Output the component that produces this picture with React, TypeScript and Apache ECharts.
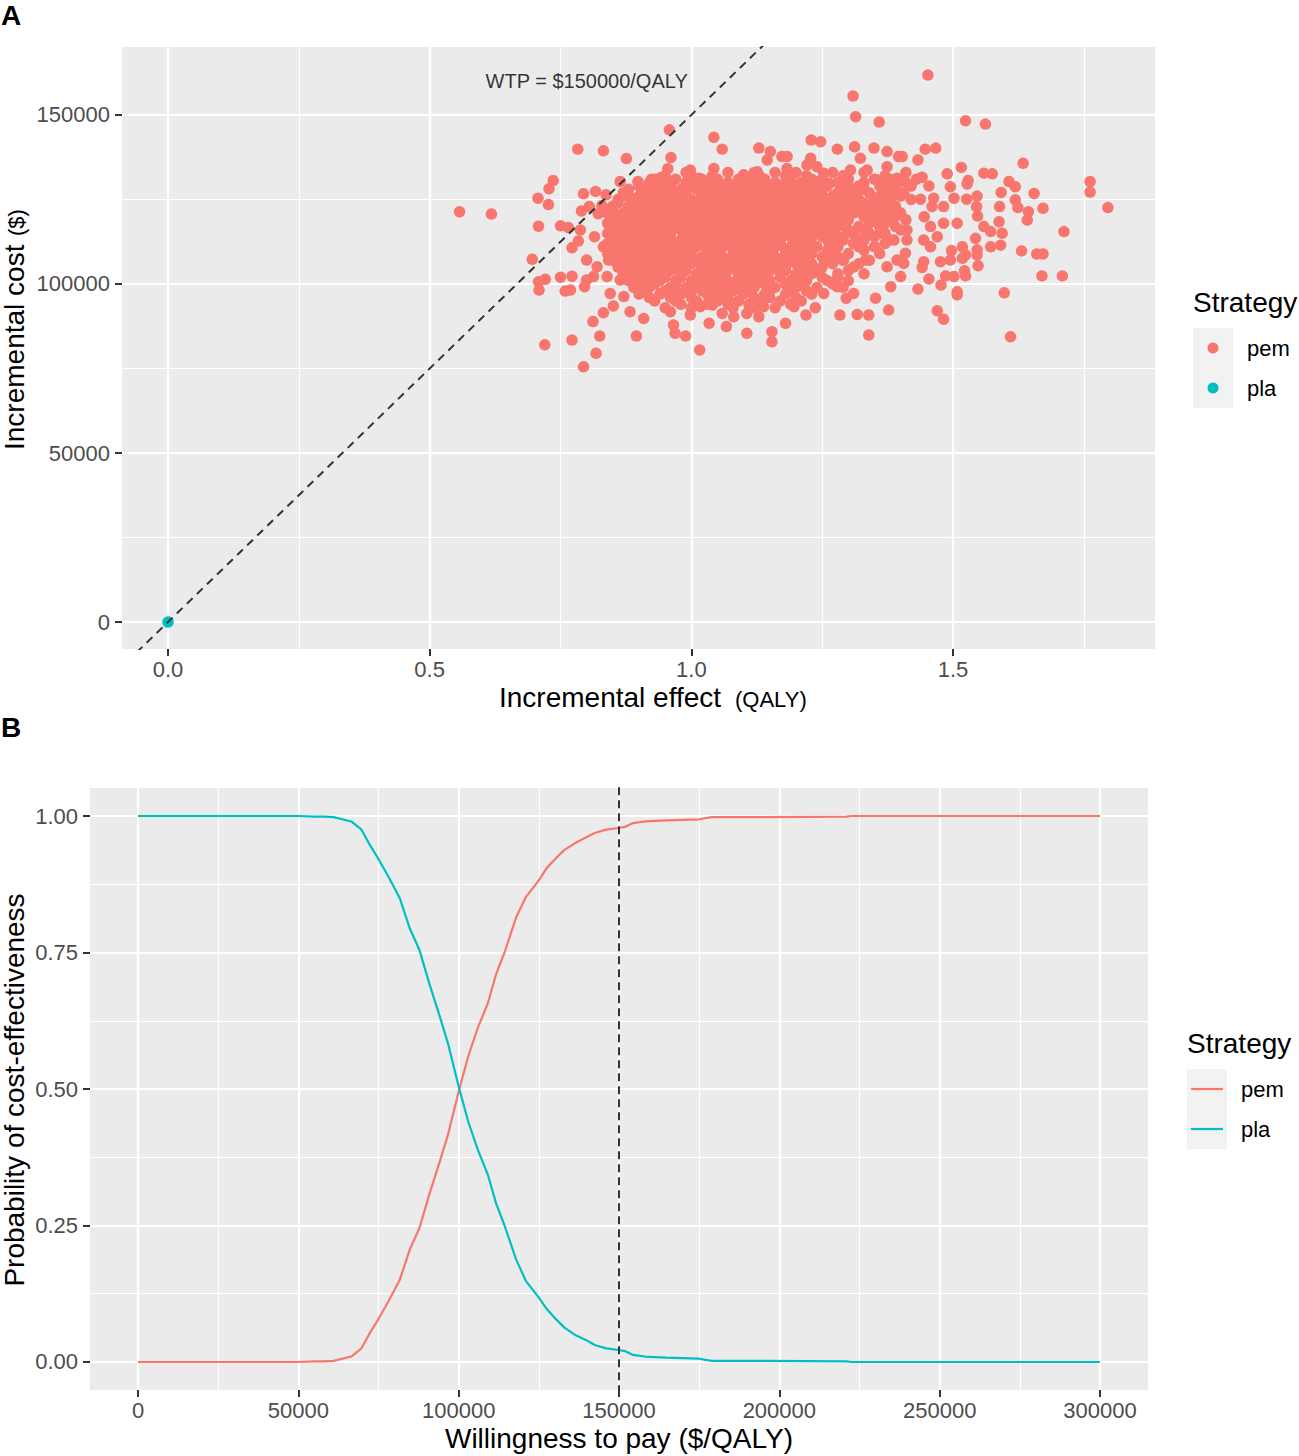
import React, { useEffect, useRef } from "react";
import * as echarts from "echarts";

const FONT = "'Liberation Sans', Arial, Helvetica, sans-serif";
const PEM = "#F8766D";
const PLA = "#00BFC4";

// ---------- Panel A data ----------
const strategies = ["pem", "pla"];

// isolated / edge points of the pem cloud [incremental effect, incremental cost]
const pemSparse: [number, number][] = [
  [0.958,145600],[0.783,139900],[0.832,139400],[0.876,137100],[0.961,137400],[0.955,134100],[0.736,130600],[0.728,128200],
  [0.707,125400],[0.727,123500],[0.557,121400],[0.618,120700],[0.794,126700],[0.817,127400],[0.837,126400],[0.864,130300],
  [0.898,130300],[0.924,131000],[0.941,131400],[0.957,128800],[0.708,117100],[0.750,117200],[0.765,116700],[0.788,116000],
  [0.815,114000],[0.772,110700],[0.784,112700],[0.696,107300],[0.708,100700],[0.721,101400],[0.709,98200],[0.750,102000],
  [0.772,102300],[0.759,97900],[0.769,98200],[0.796,99200],[0.812,88900],[0.832,91500],[0.851,93500],[0.720,82000],
  [0.772,83400],[0.825,84600],[0.895,84600],[0.818,79500],[0.794,75500],[0.909,89800],[0.883,91800],[0.960,91800],
  [0.966,87900],[0.969,85400],[0.850,122900],[0.829,123200],[0.805,122900],[0.790,121600],[0.822,120800],[0.923,122900],
  [0.887,125400],[0.906,122900],[0.855,120400],[0.871,120400],[0.896,120900],[0.861,116500],[0.877,115500],[0.850,112500],
  [0.832,111000],[0.800,107100],[0.820,105100],[0.842,107100],[0.864,109100],[0.890,110100],[0.915,111000],[0.941,111000],
  [0.902,107100],[0.928,105100],[0.960,105100],[0.839,102200],[0.864,101200],[0.890,102200],[0.915,99200],[0.941,97200],
  [0.871,96300],[0.845,97200],[0.934,101200],[0.813,102200],[0.800,101200],
  [1.309,155600],[1.314,149500],[1.359,147900],[1.043,143400],[1.059,139900],[1.229,142600],[1.247,142100],[1.129,140200],
  [1.151,139200],[1.279,139900],[1.312,140600],[1.349,140200],[1.374,139200],[1.173,137700],[1.183,137700],[1.228,137200],
  [1.323,137200],[1.374,134700],[1.396,137700],[0.998,133700],[1.043,134200],[1.145,136700],[1.221,135200],[1.240,134700],
  [1.253,132800],[1.304,133700],[1.336,133700],[1.100,132300],[1.126,133200],[1.183,134200],[1.014,131300],[1.263,129800],
  [1.355,130800],[1.393,131300],
  [0.989,84600],[1.016,80500],[1.034,88400],[1.067,87400],[1.106,85400],[1.154,85900],[1.154,82900],[1.180,88400],
  [0.998,90800],[1.059,91300],[1.081,90300],[1.129,90300],[1.219,90800],[1.237,93000],[1.284,90800],[1.317,91000],
  [1.339,90800],[1.377,92300],[1.339,84900],[1.296,95800],[1.352,95800],[1.381,99200],[1.017,93300],[1.040,93800],
  [1.106,91300],[1.138,93300],[1.196,93300],[1.253,97200],[1.279,99200],[1.310,97200],[1.374,105100],[1.333,107100],
  [1.291,107100],[1.393,107100],[1.253,115000],[1.272,119900],[1.259,122900],[1.298,122900],[1.336,119900],[1.361,122900],
  [1.387,119900],[1.298,115000],[1.323,113000],[1.361,115000],[1.387,113000],[1.285,126800],[1.317,126800],[1.349,124900],
  [1.381,125800],
  [1.452,161800],[1.524,148300],[1.562,147300],[1.447,139900],[1.467,140200],[1.403,137700],[1.433,136700],[1.634,135700],
  [1.516,134500],[1.559,132800],[1.575,132600],[1.489,132600],[1.441,131600],[1.403,130600],[1.529,130600],[1.607,130300],
  [1.619,128800],[1.762,130300],[1.762,127200],[1.796,122600],[1.454,129000],[1.495,128800],[1.527,129600],[1.592,127100],
  [1.655,126800],[1.546,126000],[1.406,126800],[1.438,125100],[1.463,125400],[1.502,125400],[1.526,125100],[1.589,122900],
  [1.619,124900],[1.624,122600],[1.672,122400],[1.545,122900],[1.482,122900],[1.460,122900],[1.644,121400],[1.642,118900],
  [1.445,119900],[1.547,120100],[1.588,118400],[1.712,115500],[1.594,115000],[1.559,117000],[1.572,115500],[1.508,118000],
  [1.482,118000],[1.457,117000],[1.412,116000],[1.412,113000],[1.444,113000],[1.470,114000],[1.543,113500],[1.457,111000],
  [1.591,111500],[1.572,111000],[1.518,111000],[1.497,109900],[1.546,110100],[1.631,109800],[1.660,108900],[1.672,108900],
  [1.524,108600],[1.546,108600],[1.409,109100],[1.476,106600],[1.495,107100],[1.518,107600],[1.444,106600],[1.441,104900],
  [1.548,105400],[1.406,106100],[1.522,103900],[1.524,102400],[1.502,102200],[1.486,102400],[1.454,101500],[1.670,102400],
  [1.709,102400],[1.477,99700],[1.433,98500],[1.400,102200],[1.508,97700],[1.508,96800],[1.598,97400],[1.470,92100],
  [1.482,89600],[1.610,84400]
];

// dense core of the pem cloud, read row by row: [incremental cost, effects in that row]
const pemRows: [number, number[]][] = [
  [133000, [0.99, 1.07, 1.12, 1.16, 1.2, 1.27, 1.33, 1.41]],
  [132000, [0.95, 1.0, 1.04, 1.1, 1.13, 1.18, 1.22, 1.29, 1.37]],
  [131000, [0.93, 0.97, 1.02, 1.05, 1.09, 1.11, 1.14, 1.19, 1.23, 1.25, 1.3, 1.35, 1.38, 1.43]],
  [130000, [0.92, 0.95, 0.99, 1.01, 1.04, 1.07, 1.1, 1.13, 1.16, 1.18, 1.21, 1.24, 1.28, 1.33, 1.37, 1.41]],
  [129000, [0.9, 0.94, 0.96, 1.0, 1.03, 1.06, 1.08, 1.12, 1.15, 1.17, 1.2, 1.22, 1.26, 1.3, 1.32, 1.36, 1.39, 1.42]],
  [128000, [0.88, 0.92, 0.95, 0.98, 1.01, 1.05, 1.09, 1.11, 1.14, 1.16, 1.19, 1.23, 1.25, 1.29, 1.33, 1.38]],
  [127000, [0.87, 0.91, 0.93, 0.97, 0.99, 1.02, 1.04, 1.07, 1.1, 1.13, 1.15, 1.18, 1.21, 1.24, 1.28, 1.31, 1.34, 1.37, 1.4]],
  [126000, [0.87, 0.9, 0.94, 0.96, 0.99, 1.02, 1.04, 1.06, 1.09, 1.12, 1.15, 1.17, 1.2, 1.22, 1.25, 1.27, 1.3, 1.36, 1.4]],
  [125000, [0.86, 0.89, 0.92, 0.95, 0.98, 1.0, 1.03, 1.05, 1.08, 1.11, 1.14, 1.16, 1.19, 1.21, 1.23, 1.26, 1.29, 1.32, 1.35, 1.38, 1.42]],
  [124000, [0.86, 0.89, 0.91, 0.94, 0.97, 1.0, 1.02, 1.05, 1.07, 1.1, 1.13, 1.15, 1.18, 1.21, 1.24, 1.27, 1.31, 1.33, 1.37]],
  [123000, [0.85, 0.88, 0.9, 0.93, 0.96, 0.99, 1.01, 1.04, 1.06, 1.09, 1.12, 1.14, 1.17, 1.2, 1.22, 1.25, 1.28, 1.3, 1.34, 1.36, 1.39]],
  [122000, [0.85, 0.88, 0.91, 0.95, 0.98, 1.0, 1.03, 1.06, 1.08, 1.11, 1.14, 1.16, 1.19, 1.22, 1.24, 1.28, 1.32, 1.35, 1.38]],
  [121000, [0.84, 0.87, 0.89, 0.92, 0.94, 0.97, 1.0, 1.02, 1.05, 1.07, 1.1, 1.13, 1.15, 1.18, 1.21, 1.23, 1.26, 1.29, 1.31, 1.33, 1.37, 1.4]],
  [120000, [0.85, 0.87, 0.9, 0.92, 0.95, 0.97, 0.99, 1.02, 1.04, 1.07, 1.09, 1.12, 1.15, 1.17, 1.2, 1.23, 1.25, 1.28, 1.33, 1.36, 1.39]],
  [119000, [0.86, 0.88, 0.91, 0.93, 0.96, 0.98, 1.01, 1.03, 1.06, 1.08, 1.11, 1.14, 1.16, 1.19, 1.22, 1.24, 1.27, 1.3, 1.35, 1.38, 1.41]],
  [118000, [0.84, 0.87, 0.89, 0.92, 0.94, 0.97, 0.99, 1.02, 1.05, 1.08, 1.1, 1.13, 1.16, 1.18, 1.21, 1.24, 1.26, 1.29, 1.34, 1.37]],
  [117000, [0.85, 0.87, 0.9, 0.92, 0.95, 0.97, 1.0, 1.02, 1.04, 1.07, 1.09, 1.12, 1.15, 1.17, 1.2, 1.23, 1.25, 1.28, 1.32, 1.36, 1.39]],
  [116000, [0.85, 0.88, 0.9, 0.93, 0.95, 0.98, 1.0, 1.03, 1.05, 1.08, 1.1, 1.13, 1.15, 1.18, 1.2, 1.22, 1.26, 1.3, 1.33, 1.4]],
  [115000, [0.84, 0.86, 0.89, 0.91, 0.94, 0.96, 0.99, 1.01, 1.03, 1.06, 1.08, 1.11, 1.13, 1.16, 1.18, 1.21, 1.24, 1.27, 1.31, 1.34, 1.37]],
  [114000, [0.86, 0.88, 0.91, 0.93, 0.96, 0.99, 1.01, 1.04, 1.06, 1.09, 1.11, 1.14, 1.16, 1.19, 1.21, 1.23, 1.25, 1.28, 1.35]],
  [113000, [0.85, 0.88, 0.9, 0.93, 0.95, 0.98, 1.0, 1.02, 1.05, 1.07, 1.1, 1.12, 1.15, 1.17, 1.2, 1.22, 1.26, 1.29, 1.33, 1.38]],
  [112000, [0.84, 0.87, 0.9, 0.92, 0.94, 0.97, 0.99, 1.02, 1.04, 1.07, 1.09, 1.12, 1.14, 1.17, 1.2, 1.23, 1.27, 1.31, 1.37]],
  [111000, [0.86, 0.89, 0.91, 0.94, 0.96, 0.99, 1.01, 1.04, 1.06, 1.09, 1.11, 1.14, 1.16, 1.19, 1.21, 1.24, 1.28, 1.32, 1.35]],
  [110000, [0.85, 0.88, 0.9, 0.93, 0.95, 0.98, 1.0, 1.03, 1.05, 1.08, 1.1, 1.12, 1.15, 1.18, 1.2, 1.22, 1.26, 1.33]],
  [109000, [0.84, 0.87, 0.9, 0.92, 0.95, 0.97, 1.0, 1.03, 1.05, 1.08, 1.1, 1.13, 1.15, 1.18, 1.2, 1.23, 1.27, 1.3, 1.36]],
  [108000, [0.86, 0.89, 0.91, 0.94, 0.96, 0.99, 1.02, 1.04, 1.06, 1.09, 1.11, 1.14, 1.16, 1.19, 1.21, 1.25, 1.28]],
  [107000, [0.85, 0.88, 0.91, 0.93, 0.96, 0.98, 1.01, 1.04, 1.07, 1.09, 1.12, 1.14, 1.17, 1.19, 1.22, 1.26, 1.29, 1.34]],
  [106000, [0.87, 0.9, 0.92, 0.95, 0.98, 1.0, 1.03, 1.06, 1.08, 1.11, 1.13, 1.15, 1.18, 1.2, 1.23, 1.27, 1.32]],
  [105000, [0.86, 0.89, 0.92, 0.94, 0.97, 0.99, 1.02, 1.05, 1.08, 1.1, 1.13, 1.16, 1.18, 1.21, 1.25, 1.31]],
  [104000, [0.88, 0.91, 0.94, 0.96, 0.99, 1.02, 1.04, 1.07, 1.1, 1.12, 1.15, 1.18, 1.22, 1.24, 1.3]],
  [103000, [0.87, 0.9, 0.93, 0.95, 0.98, 1.01, 1.03, 1.06, 1.09, 1.11, 1.14, 1.17, 1.2, 1.23, 1.28, 1.33]],
  [102000, [0.89, 0.92, 0.95, 0.98, 1.01, 1.04, 1.06, 1.09, 1.12, 1.14, 1.17, 1.21, 1.25, 1.28]],
  [101000, [0.88, 0.91, 0.94, 0.97, 1.0, 1.02, 1.05, 1.07, 1.1, 1.13, 1.15, 1.19, 1.22, 1.26, 1.3]],
  [100000, [0.9, 0.93, 0.97, 1.0, 1.03, 1.06, 1.08, 1.11, 1.14, 1.18, 1.21, 1.27]],
  [99000, [0.89, 0.92, 0.96, 0.99, 1.01, 1.04, 1.07, 1.09, 1.12, 1.16, 1.2, 1.24, 1.29]],
  [98000, [0.91, 0.95, 0.97, 1.0, 1.02, 1.05, 1.08, 1.11, 1.15, 1.19, 1.22]],
  [97000, [0.9, 0.94, 0.98, 1.03, 1.06, 1.1, 1.14, 1.18, 1.23]],
  [96000, [0.92, 0.96, 1.0, 1.04, 1.07, 1.12, 1.15, 1.2]],
  [95000, [0.93, 0.97, 1.01, 1.05, 1.09, 1.13, 1.17, 1.21]],
  [94000, [0.98, 1.03, 1.07, 1.11, 1.19]],
  [93000, [0.95, 1.0, 1.08, 1.12, 1.16]]
];

const plaPoints: [number, number][] = [[0, 0]];

const wtpThreshold = 150000;
const wtpLineEffects = [-0.06, 1.2];
const wtpLabelPos: [number, number] = [0.8, 160000];
const wtpLabelText = "WTP = $150000/QALY";

const xTicksA = [0, 0.5, 1, 1.5];
const xMinorA = [0.25, 0.75, 1.25, 1.75];
const yTicksA = [0, 50000, 100000, 150000];
const yMinorA = [25000, 75000, 125000];

// ---------- Panel B data ----------
const wtpValues = [0, 20000, 40000, 50000, 55000, 58000, 61000, 66500, 69700, 72000, 74800, 78000, 81600, 84700, 87800,
  90900, 94000, 96600, 100200, 103000, 105900, 109100, 111700, 114300, 117900, 121000, 125000, 127500, 130400, 133000,
  136200, 139800, 142400, 146000, 150000, 151800, 154400, 158000, 164800, 175000, 178900, 195000, 221000, 222500, 300000];
const pemProb = [0, 0, 0, 0, 0.001, 0.001, 0.002, 0.01, 0.025, 0.05, 0.077, 0.11, 0.15, 0.205, 0.246,
  0.308, 0.365, 0.415, 0.5, 0.56, 0.611, 0.657, 0.711, 0.75, 0.814, 0.852, 0.882, 0.905, 0.923, 0.938,
  0.95, 0.961, 0.969, 0.975, 0.978, 0.98, 0.987, 0.99, 0.992, 0.994, 0.998, 0.998, 0.999, 1, 1];
const plaProb = [1, 1, 1, 1, 0.999, 0.999, 0.998, 0.99, 0.975, 0.95, 0.923, 0.89, 0.85, 0.795, 0.754,
  0.692, 0.635, 0.585, 0.5, 0.44, 0.39, 0.343, 0.29, 0.25, 0.188, 0.148, 0.118, 0.097, 0.078, 0.063,
  0.05, 0.04, 0.031, 0.025, 0.022, 0.02, 0.013, 0.01, 0.008, 0.006, 0.002, 0.002, 0.001, 0, 0];

const xTicksB = [0, 50000, 100000, 150000, 200000, 250000, 300000];
const xMinorB = [25000, 75000, 125000, 175000, 225000, 275000];
const yTicksB = [0, 0.25, 0.5, 0.75, 1];
const yMinorB = [0.125, 0.375, 0.625, 0.875];

// axis extents (ggplot expansion)
const xRangeA = [-0.0879, 1.886];
const yRangeA = [-7988, 170118];
const xRangeB = [-14969, 314969];
const yRangeB = [-0.0513, 1.0513];

function mainAxis(gridIndex: number, range: number[], ticks: number[], fmt: (v: number) => string, margin: number, position: string) {
  return {
    type: "value",
    gridIndex,
    position,
    min: range[0],
    max: range[1],
    axisLine: { show: false, onZero: false },
    axisTick: { show: true, inside: false, length: 7, lineStyle: { color: "#333333", width: 2 }, customValues: ticks },
    axisLabel: { show: true, customValues: ticks, formatter: fmt, color: "#4D4D4D", fontSize: 22, fontFamily: FONT, margin },
    splitLine: { show: true, lineStyle: { color: "#FFFFFF", width: 2.2 } },
  };
}

function minorAxis(gridIndex: number, range: number[], ticks: number[], position: string) {
  return {
    type: "value",
    gridIndex,
    position,
    min: range[0],
    max: range[1],
    axisLine: { show: false, onZero: false },
    axisTick: { show: false, customValues: ticks },
    axisLabel: { show: false, customValues: ticks },
    splitLine: { show: true, lineStyle: { color: "#FFFFFF", width: 1.1 } },
  };
}

function txt(text: string, x: number, y: number, fontSize: number, opts: any = {}) {
  return {
    type: "text",
    x,
    y,
    rotation: opts.rotation || 0,
    silent: true,
    style: {
      text,
      fontSize,
      fontFamily: FONT,
      fontWeight: opts.bold ? "bold" : "normal",
      fill: opts.fill || "#000000",
      align: opts.align || "left",
      verticalAlign: "middle",
    },
  };
}

export default function App() {
  const ref = useRef<HTMLDivElement>(null);

  useEffect(() => {
    document.body.style.margin = "0";
    const chart = echarts.init(ref.current!, null, { renderer: "svg" });

    const pemData: [number, number][] = pemSparse.slice();
    pemRows.forEach(([cost, effects]) => effects.forEach((e) => pemData.push([e, cost])));

    const option: any = {
      animation: false,
      backgroundColor: "#FFFFFF",
      textStyle: { fontFamily: FONT },
      grid: [
        { left: 122, top: 47, width: 1033, height: 602, show: true, backgroundColor: "#EBEBEB", borderWidth: 0, outerBoundsMode: "none", containLabel: false },
        { left: 90, top: 788, width: 1058, height: 602, show: true, backgroundColor: "#EBEBEB", borderWidth: 0, outerBoundsMode: "none", containLabel: false },
      ],
      xAxis: [
        mainAxis(0, xRangeA, xTicksA, (v) => v.toFixed(1), 9, "bottom"),
        minorAxis(0, xRangeA, xMinorA, "top"),
        mainAxis(1, xRangeB, xTicksB, (v) => String(v), 9, "bottom"),
        minorAxis(1, xRangeB, xMinorB, "top"),
      ],
      yAxis: [
        mainAxis(0, yRangeA, yTicksA, (v) => String(v), 12, "left"),
        minorAxis(0, yRangeA, yMinorA, "right"),
        mainAxis(1, yRangeB, yTicksB, (v) => v.toFixed(2), 12, "left"),
        minorAxis(1, yRangeB, yMinorB, "right"),
      ],
      series: [
        {
          name: strategies[0], type: "scatter", xAxisIndex: 0, yAxisIndex: 0, z: 3,
          symbol: "circle", symbolSize: 11.5, itemStyle: { color: PEM, opacity: 1 }, data: pemData, silent: true,
        },
        {
          name: strategies[1], type: "scatter", xAxisIndex: 0, yAxisIndex: 0, z: 3,
          symbol: "circle", symbolSize: 11.5, itemStyle: { color: PLA, opacity: 1 }, data: plaPoints, silent: true,
        },
        {
          name: "wtp", type: "line", xAxisIndex: 0, yAxisIndex: 0, z: 4, clip: true, silent: true,
          symbol: "none", lineStyle: { color: "#333333", width: 2, type: [8, 6] },
          data: wtpLineEffects.map((e) => [e, e * wtpThreshold]),
        },
        {
          name: "wtpLabel", type: "scatter", xAxisIndex: 0, yAxisIndex: 0, z: 5, silent: true,
          symbol: "circle", symbolSize: 1, itemStyle: { color: "rgba(0,0,0,0)" },
          label: { show: true, position: "inside", formatter: wtpLabelText, color: "#000000", fontSize: 20, fontFamily: FONT },
          data: [wtpLabelPos],
        },
        {
          name: strategies[0], type: "line", xAxisIndex: 2, yAxisIndex: 2, z: 3, silent: true,
          symbol: "none", lineStyle: { color: PEM, width: 2.2 }, itemStyle: { color: PEM },
          data: wtpValues.map((w, i) => [w, pemProb[i]]),
        },
        {
          name: strategies[1], type: "line", xAxisIndex: 2, yAxisIndex: 2, z: 3, silent: true,
          symbol: "none", lineStyle: { color: PLA, width: 2.2 }, itemStyle: { color: PLA },
          data: wtpValues.map((w, i) => [w, plaProb[i]]),
        },
        {
          name: "wtpB", type: "line", xAxisIndex: 2, yAxisIndex: 2, z: 4, clip: true, silent: true,
          symbol: "none", lineStyle: { color: "#333333", width: 2, type: [8, 5] },
          data: [[wtpThreshold, -0.2], [wtpThreshold, 1.2]],
        },
      ],
      graphic: [
        txt("A", 1, 15, 28, { bold: true }),
        txt("B", 1, 727, 28, { bold: true }),
        // panel A axis titles
        txt("Incremental effect", 499, 697, 28),
        txt("(QALY)", 735, 699, 22),
        txt("Incremental cost", 14, 450, 28, { rotation: Math.PI / 2 }),
        txt("($)", 16, 236, 22, { rotation: Math.PI / 2 }),
        // panel A legend
        txt("Strategy", 1193, 302, 28),
        { type: "rect", silent: true, shape: { x: 1193, y: 328, width: 40, height: 80 }, style: { fill: "#F2F2F2" } },
        { type: "circle", silent: true, shape: { cx: 1213, cy: 348, r: 5.5 }, style: { fill: PEM } },
        { type: "circle", silent: true, shape: { cx: 1213, cy: 388, r: 5.5 }, style: { fill: PLA } },
        txt(strategies[0], 1247, 348, 22),
        txt(strategies[1], 1247, 388, 22),
        // panel B axis titles
        txt("Willingness to pay ($/QALY)", 619, 1438, 28, { align: "center" }),
        txt("Probability of cost-effectiveness", 14, 1090, 28, { rotation: Math.PI / 2, align: "center" }),
        // panel B legend
        txt("Strategy", 1187, 1043, 28),
        { type: "rect", silent: true, shape: { x: 1187, y: 1069, width: 40, height: 80 }, style: { fill: "#F2F2F2" } },
        { type: "line", silent: true, shape: { x1: 1191, y1: 1089, x2: 1223, y2: 1089 }, style: { stroke: PEM, lineWidth: 2.2 } },
        { type: "line", silent: true, shape: { x1: 1191, y1: 1129, x2: 1223, y2: 1129 }, style: { stroke: PLA, lineWidth: 2.2 } },
        txt(strategies[0], 1241, 1089, 22),
        txt(strategies[1], 1241, 1129, 22),
      ],
    };

    chart.setOption(option);
    return () => chart.dispose();
  }, []);

  return <div ref={ref} style={{ width: 1299, height: 1456 }} />;
}
